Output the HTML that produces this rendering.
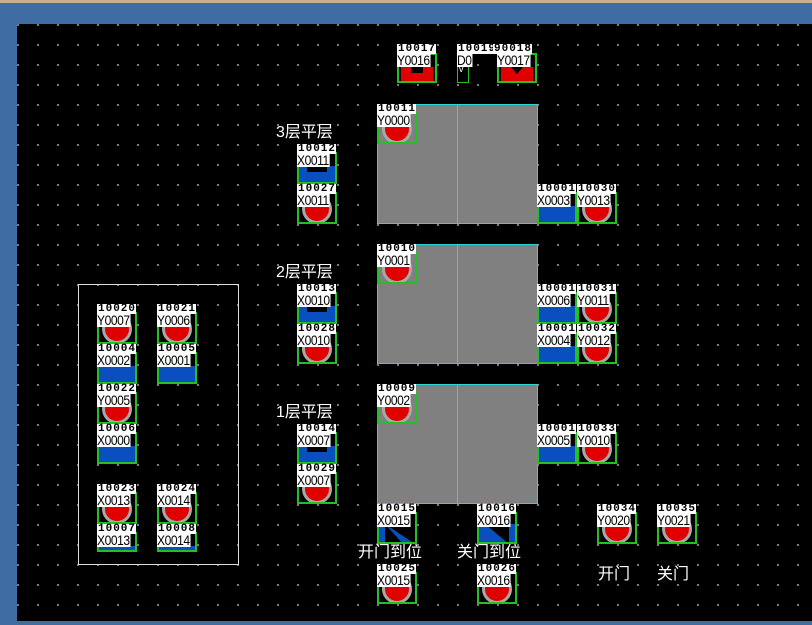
<!DOCTYPE html>
<html><head><meta charset="utf-8"><style>
*{margin:0;padding:0;box-sizing:border-box}
body{width:812px;height:625px;overflow:hidden;background:#3e6ca3;position:relative;font-family:"Liberation Sans","Noto Sans CJK SC",sans-serif}
#top{position:absolute;left:0;top:0;width:812px;height:3px;background:#c8b08a}
#cv{position:absolute;left:17px;top:24px;width:795px;height:597px;background-color:#000;
background-image:radial-gradient(circle,#9a9a9a 0.8px,transparent 1.1px);background-size:20px 20px;background-position:11px 11px}
.a{position:absolute}
.shaft{position:absolute;background:#808080;border:1px solid #2ad4d4}
.w{position:absolute;width:40px;height:41px}
.w .g{position:absolute;left:0;top:9px;width:40px;height:32px;border:2px solid #22c022;overflow:hidden}
.w .n{position:absolute;left:0;top:1px;height:10px;background:#fff;color:#000;font:bold 11px/10px "Liberation Mono",monospace;letter-spacing:1px;padding:0 0 0 1px;z-index:2;white-space:nowrap}
.w .ad{position:absolute;left:0;top:11px;height:13px;background:#fff;color:#000;font:14px/13px "Liberation Sans",sans-serif;transform:scaleX(0.86);transform-origin:0 0;padding-right:1px;z-index:2;white-space:nowrap;letter-spacing:-0.5px}
.lamp .c{position:absolute;left:3px;top:0px;width:30px;height:30px;border-radius:50%;background:#e00000;border:3px solid #a8a8a8}
.btn .b{position:absolute;left:0;top:12px;width:36px;height:18px;background:#0a4fc0}
.btn .k{position:absolute;left:8px;top:10px;width:20px;height:8px;background:#000}
.lbl{position:absolute;color:#fff;font-size:16px;line-height:18px;white-space:nowrap}
</style></head><body>
<div id="top"></div>
<div id="cv"></div>

<div class="shaft" style="left:377px;top:104px;width:81px;height:120px"></div>
<div class="shaft" style="left:457px;top:104px;width:81px;height:120px"></div>
<div class="shaft" style="left:377px;top:244px;width:81px;height:120px"></div>
<div class="shaft" style="left:457px;top:244px;width:81px;height:120px"></div>
<div class="shaft" style="left:377px;top:384px;width:81px;height:120px"></div>
<div class="shaft" style="left:457px;top:384px;width:81px;height:120px"></div>

<div class="a" style="left:78px;top:284px;width:161px;height:281px;border:1px solid #ddd"></div>

<div class="lbl" style="left:276px;top:124px">3层平层</div>
<div class="lbl" style="left:276px;top:264px">2层平层</div>
<div class="lbl" style="left:276px;top:404px">1层平层</div>
<div class="lbl" style="left:358px;top:544px">开门到位</div>
<div class="lbl" style="left:457px;top:544px">关门到位</div>
<div class="lbl" style="left:598px;top:566px">开门</div>
<div class="lbl" style="left:657px;top:566px">关门</div>

<!-- top widgets -->
<div class="w" style="left:397px;top:43px"><div class="n">10017</div><div class="ad">Y0016</div><div class="g" style="top:10px;height:30px"><div class="a" style="left:2px;top:12px;width:32px;height:14px;background:#e00000"></div><div class="a" style="left:12px;top:12px;width:12px;height:6px;background:#000"></div></div></div>
<div class="w" style="left:457px;top:43px;width:12px"><div class="n">10019</div><div class="ad">D0</div><div class="g" style="top:20px;width:12px;height:20px;border-width:1px"><div class="a" style="left:1px;top:0;color:#fff;font-size:9px">v</div></div></div>
<div class="w" style="left:497px;top:43px"><div class="n" style="left:-4px">90018</div><div class="ad">Y0017</div><div class="g" style="top:10px;height:30px"><div class="a" style="left:2px;top:12px;width:32px;height:14px;background:#e00000"></div><div class="a" style="left:12px;top:12px;width:0;height:0;border-left:6px solid transparent;border-right:6px solid transparent;border-top:7px solid #000"></div></div></div>

<!-- lamps -->
<div class="w lamp" style="left:377px;top:103px"><div class="n">10011</div><div class="ad">Y0000</div><div class="g"><div class="c"></div></div></div>
<div class="w lamp" style="left:377px;top:243px"><div class="n">10010</div><div class="ad">Y0001</div><div class="g"><div class="c"></div></div></div>
<div class="w lamp" style="left:377px;top:383px"><div class="n">10009</div><div class="ad">Y0002</div><div class="g"><div class="c"></div></div></div>

<div class="w btn" style="left:297px;top:143px"><div class="n">10012</div><div class="ad">X0011</div><div class="g"><div class="b"></div><div class="k"></div></div></div>
<div class="w lamp" style="left:297px;top:183px"><div class="n">10027</div><div class="ad">X0011</div><div class="g"><div class="c"></div></div></div>
<div class="w btn" style="left:297px;top:283px"><div class="n">10013</div><div class="ad">X0010</div><div class="g"><div class="b"></div><div class="k"></div></div></div>
<div class="w lamp" style="left:297px;top:323px"><div class="n">10028</div><div class="ad">X0010</div><div class="g"><div class="c"></div></div></div>
<div class="w btn" style="left:297px;top:423px"><div class="n">10014</div><div class="ad">X0007</div><div class="g"><div class="b"></div><div class="k"></div></div></div>
<div class="w lamp" style="left:297px;top:463px"><div class="n">10029</div><div class="ad">X0007</div><div class="g"><div class="c"></div></div></div>

<div class="w btn" style="left:537px;top:183px"><div class="n">10001</div><div class="ad">X0003</div><div class="g"><div class="b"></div></div></div>
<div class="w lamp" style="left:577px;top:183px"><div class="n">10030</div><div class="ad">Y0013</div><div class="g"><div class="c"></div></div></div>
<div class="w btn" style="left:537px;top:283px"><div class="n">10001</div><div class="ad">X0006</div><div class="g"><div class="b"></div></div></div>
<div class="w lamp" style="left:577px;top:283px"><div class="n">10031</div><div class="ad">Y0011</div><div class="g"><div class="c"></div></div></div>
<div class="w btn" style="left:537px;top:323px"><div class="n">10001</div><div class="ad">X0004</div><div class="g"><div class="b"></div></div></div>
<div class="w lamp" style="left:577px;top:323px"><div class="n">10032</div><div class="ad">Y0012</div><div class="g"><div class="c"></div></div></div>
<div class="w btn" style="left:537px;top:423px"><div class="n">10001</div><div class="ad">X0005</div><div class="g"><div class="b"></div></div></div>
<div class="w lamp" style="left:577px;top:423px"><div class="n">10033</div><div class="ad">Y0010</div><div class="g"><div class="c"></div></div></div>

<div class="w btn" style="left:377px;top:503px"><div class="n">10015</div><div class="ad">X0015</div><div class="g" style="border-color:#22c022"><div class="b" style="top:10px;height:20px;background:#0a4fc0"></div><div class="a" style="left:6px;top:10px;width:30px;height:20px;background:#000;clip-path:polygon(0 0,100% 0,100% 100%)"></div><div class="a" style="left:0;top:10px;width:30px;height:20px;background:#000;clip-path:polygon(20% 0,20% 100%,80% 100%)"></div></div></div>
<div class="w btn" style="left:477px;top:503px"><div class="n">10016</div><div class="ad">X0016</div><div class="g" style="border-color:#22c022"><div class="b" style="top:10px;height:20px;background:#0a4fc0"></div><div class="a" style="left:6px;top:10px;width:24px;height:20px;background:#000;clip-path:polygon(0 0,100% 0,100% 100%)"></div></div></div>
<div class="w lamp" style="left:377px;top:563px"><div class="n">10025</div><div class="ad">X0015</div><div class="g"><div class="c"></div></div></div>
<div class="w lamp" style="left:477px;top:563px"><div class="n">10026</div><div class="ad">X0016</div><div class="g"><div class="c"></div></div></div>
<div class="w lamp" style="left:597px;top:503px"><div class="n">10034</div><div class="ad">Y0020</div><div class="g"><div class="c"></div></div></div>
<div class="w lamp" style="left:657px;top:503px"><div class="n">10035</div><div class="ad">Y0021</div><div class="g"><div class="c"></div></div></div>

<!-- left panel -->
<div class="w lamp" style="left:97px;top:303px"><div class="n">10020</div><div class="ad">Y0007</div><div class="g"><div class="c"></div></div></div>
<div class="w lamp" style="left:157px;top:303px"><div class="n">10021</div><div class="ad">Y0006</div><div class="g"><div class="c"></div></div></div>
<div class="w btn" style="left:97px;top:343px"><div class="n">10004</div><div class="ad">X0002</div><div class="g"><div class="b"></div></div></div>
<div class="w btn" style="left:157px;top:343px"><div class="n">10005</div><div class="ad">X0001</div><div class="g"><div class="b"></div></div></div>
<div class="w lamp" style="left:97px;top:383px"><div class="n">10022</div><div class="ad">Y0005</div><div class="g"><div class="c"></div></div></div>
<div class="w btn" style="left:97px;top:423px"><div class="n">10006</div><div class="ad">X0000</div><div class="g"><div class="b"></div></div></div>
<div class="w lamp" style="left:97px;top:483px"><div class="n">10023</div><div class="ad">X0013</div><div class="g"><div class="c"></div></div></div>
<div class="w lamp" style="left:157px;top:483px"><div class="n">10024</div><div class="ad">X0014</div><div class="g"><div class="c"></div></div></div>
<div class="w btn" style="left:97px;top:523px"><div class="n">10007</div><div class="ad">X0013</div><div class="g" style="height:20px"><div class="b" style="top:12px;height:4px"></div></div></div>
<div class="w btn" style="left:157px;top:523px"><div class="n">10008</div><div class="ad">X0014</div><div class="g" style="height:20px"><div class="b" style="top:12px;height:4px"></div></div></div>
</body></html>
